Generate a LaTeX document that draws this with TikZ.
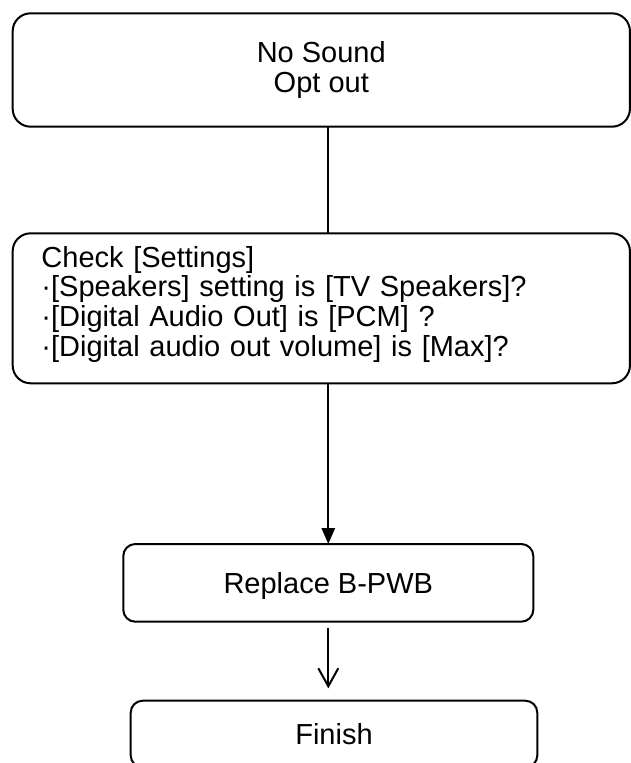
\documentclass[tikz,border=0pt]{standalone}
\usepackage{fontspec}
\setmainfont{Liberation Sans}
\usetikzlibrary{arrows.meta,positioning}

\begin{document}
\begin{tikzpicture}[
  x=1pt,y=-1pt,
  node distance=106.6pt,
  box/.style={rectangle,rounded corners=18pt,draw=black,line width=2pt,outer sep=0pt,align=center,font=\fontsize{29}{30}\selectfont},
  widebox/.style={box,minimum width=617.3pt},
  smallbox/.style={box,rounded corners=12pt,text height=20.8pt,text depth=0pt},
  arrow/.style={-{Triangle[length=16pt,width=13.3pt]},line width=2pt},
  openarrow/.style={-{Straight Barb[length=18pt,width=20pt]},line width=2pt}
]
\useasboundingbox (0,0) rectangle (631,763);
\node[widebox,minimum height=113.4pt] (top) at (321.3,70) {No Sound\\Opt out};
\node[widebox,minimum height=150pt,below=of top,align=left,text width=559.7pt,font=\fontsize{29}{29.8}\selectfont] (check)
  {Check [Settings]\\·[Speakers] setting is [TV Speakers]?\\·[Digital Audio Out] is [PCM] ?\\·[Digital audio out volume] is [Max]?\rule[-14pt]{0pt}{14pt}};
\node[smallbox,minimum width=410pt,minimum height=77.7pt,below=160.7pt of check,xshift=7pt] (replace) {Replace B-PWB};
\node[smallbox,minimum width=406.6pt,minimum height=66.7pt,below=79pt of replace,xshift=5.7pt] (finish) {Finish};
% connectors
\draw[line width=2pt] ([xshift=7pt]top.south) -- ([xshift=7pt]check.north);
\draw[arrow] ([xshift=7pt]check.south) -- (replace.north);
\draw[openarrow,shorten <=6.6pt,shorten >=12.4pt] (replace.south) -- (replace.south |- finish.north);
\end{tikzpicture}
\end{document}
